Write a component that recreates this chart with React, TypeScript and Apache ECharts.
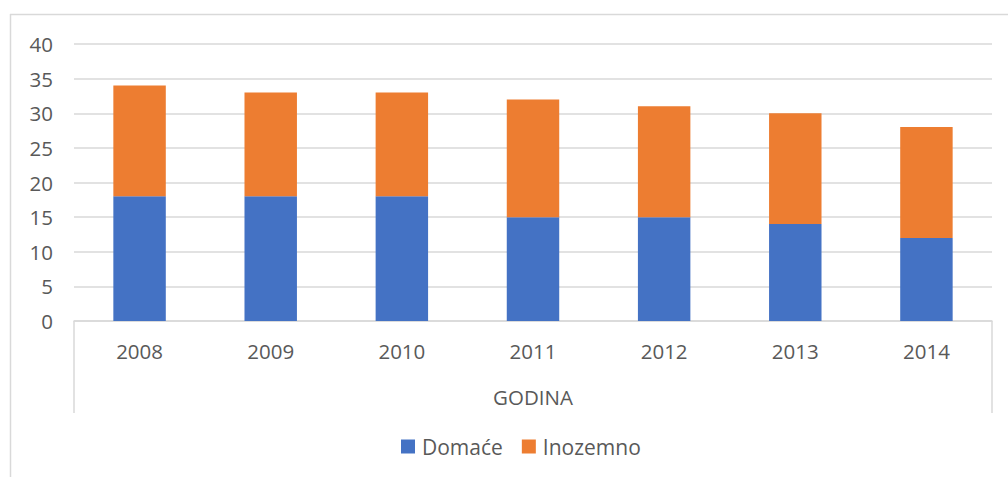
import React, { useEffect, useRef } from "react";
import * as echarts from "echarts";

const categories = ["2008", "2009", "2010", "2011", "2012", "2013", "2014"];
const domace = [18, 18, 18, 15, 15, 14, 12];
const inozemno = [16, 15, 15, 17, 16, 16, 16];
const axisTitle = "GODINA";
const seriesNames = ["Domaće", "Inozemno"];

const FONT = "'Open Sans', sans-serif";
const TEXT = "#595959";
const LINE = "#d9d9d9";

export default function App() {
  const ref = useRef<HTMLDivElement>(null);
  useEffect(() => {
    const chart = echarts.init(ref.current!, null, { renderer: "svg" });
    chart.setOption({
      animation: false,
      textStyle: { fontFamily: FONT },
      legend: {
        data: seriesNames,
        left: 401,
        top: 436,
        padding: 0,
        itemWidth: 14,
        itemHeight: 14,
        itemGap: 19,
        icon: "rect",
        textStyle: { fontFamily: FONT, fontSize: 21, color: TEXT, padding: [0, 0, 0, 2] },
      },
      grid: { left: 74, right: 16, top: 44, bottom: 156, containLabel: false },
      xAxis: [
        {
          type: "category",
          data: categories,
          axisLine: { lineStyle: { color: LINE, width: 1.5 } },
          axisTick: { show: false },
          axisLabel: { fontFamily: FONT, fontSize: 20.5, color: TEXT, margin: 19 },
        },
        {
          type: "category",
          data: [axisTitle],
          position: "bottom",
          axisLine: { show: false },
          axisTick: { show: true, length: 92, lineStyle: { color: LINE, width: 1.5 } },
          axisLabel: { fontFamily: FONT, fontSize: 20.5, color: TEXT, margin: 65 },
        },
      ],
      yAxis: {
        type: "value",
        min: 0,
        max: 40,
        interval: 5,
        axisLine: { show: false },
        axisTick: { show: false },
        axisLabel: { fontFamily: FONT, fontSize: 20.5, color: TEXT, margin: 21 },
        splitLine: { lineStyle: { color: LINE, width: 1.5 } },
      },
      graphic: [
        { type: "line", shape: { x1: 10, y1: 14.5, x2: 1008, y2: 14.5 }, style: { stroke: LINE, lineWidth: 1.5 } },
        { type: "line", shape: { x1: 10.5, y1: 14, x2: 10.5, y2: 477 }, style: { stroke: LINE, lineWidth: 1.5 } },
      ],
      series: [
        {
          name: seriesNames[0],
          type: "bar",
          stack: "total",
          data: domace,
          barWidth: "40%",
          itemStyle: { color: "#4472C4" },
        },
        {
          name: seriesNames[1],
          type: "bar",
          stack: "total",
          data: inozemno,
          barWidth: "40%",
          itemStyle: { color: "#ED7D31" },
        },
      ],
    });
    return () => chart.dispose();
  }, []);
  return (
    <div
      ref={ref}
      style={{ position: "fixed", left: 0, top: 0, width: 1008, height: 477, background: "#fff" }}
    />
  );
}
